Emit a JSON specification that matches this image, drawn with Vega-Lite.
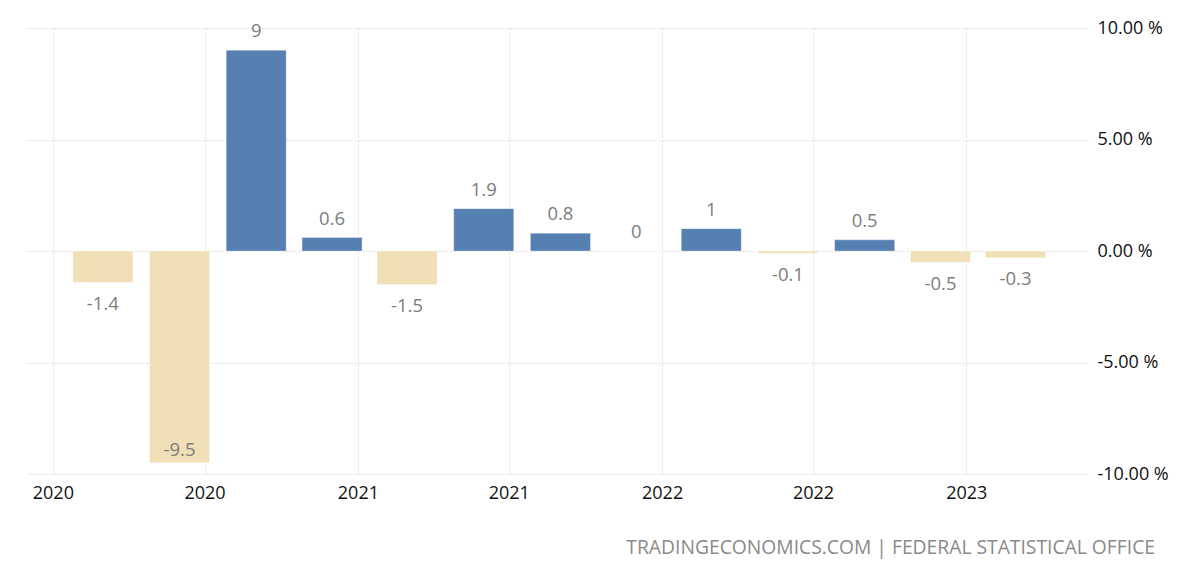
{
  "$schema": "https://vega.github.io/schema/vega-lite/v6.json",
  "width": 1061,
  "height": 446,
  "autosize": {"type": "none"},
  "padding": {"left": 27, "top": 28, "right": 112, "bottom": 92},
  "background": "#ffffff",
  "config": {
    "view": {"stroke": null},
    "font": "Open Sans",
    "axis": {"domain": false, "ticks": false, "grid": true, "gridColor": "#dddddd", "gridDash": [2, 2], "gridWidth": 1, "labelFont": "Open Sans", "labelFontSize": 18, "labelColor": "#111111", "title": null}
  },
  "title": {
    "text": "TRADINGECONOMICS.COM | FEDERAL STATISTICAL OFFICE",
    "orient": "bottom",
    "anchor": "end",
    "frame": "group",
    "font": "Open Sans",
    "fontSize": 19.3,
    "fontWeight": "normal",
    "color": "#8a8a8a",
    "baseline": "alphabetic",
    "dx": 67,
    "offset": 52
  },
  "data": {
    "values": [
      {"date": "2020-03-01", "value": -1.4},
      {"date": "2020-06-01", "value": -9.5},
      {"date": "2020-09-01", "value": 9},
      {"date": "2020-12-01", "value": 0.6},
      {"date": "2021-03-01", "value": -1.5},
      {"date": "2021-06-01", "value": 1.9},
      {"date": "2021-09-01", "value": 0.8},
      {"date": "2021-12-01", "value": 0},
      {"date": "2022-03-01", "value": 1},
      {"date": "2022-06-01", "value": -0.1},
      {"date": "2022-09-01", "value": 0.5},
      {"date": "2022-12-01", "value": -0.5},
      {"date": "2023-03-01", "value": -0.3}
    ]
  },
  "encoding": {
    "x": {
      "field": "date",
      "type": "temporal",
      "scale": {
        "type": "utc",
        "padding": 0,
        "nice": false,
        "domain": [
          {"year": 2019, "month": 12, "date": 1, "utc": true},
          {"year": 2023, "month": 5, "date": 27, "utc": true}
        ]
      },
      "axis": {
        "values": [
          {"year": 2020, "month": 1, "date": 1, "utc": true},
          {"year": 2020, "month": 7, "date": 1, "utc": true},
          {"year": 2021, "month": 1, "date": 1, "utc": true},
          {"year": 2021, "month": 7, "date": 1, "utc": true},
          {"year": 2022, "month": 1, "date": 1, "utc": true},
          {"year": 2022, "month": 7, "date": 1, "utc": true},
          {"year": 2023, "month": 1, "date": 1, "utc": true}
        ],
        "labelExpr": "utcFormat(datum.value, '%Y')",
        "labelPadding": 10,
        "labelBaseline": "top"
      }
    },
    "y": {
      "field": "value",
      "type": "quantitative",
      "scale": {"domain": [-10, 10], "nice": false, "zero": false, "padding": 0},
      "axis": {
        "orient": "right",
        "values": [-10, -5, 0, 5, 10],
        "labelExpr": "(datum.value < 0 ? '-' : '') + format(abs(datum.value), '.2f') + ' %'",
        "labelPadding": 9,
        "labelAlign": "left"
      }
    }
  },
  "layer": [
    {
      "mark": {"type": "bar", "width": 60, "stroke": "#ffffff", "strokeWidth": 0.6, "strokeOpacity": 0.5},
      "encoding": {
        "color": {
          "condition": {"test": "datum.value < 0", "value": "#F1DFB8"},
          "value": "#5680B2"
        }
      }
    },
    {
      "transform": [{"filter": "datum.value >= 0"}],
      "mark": {"type": "text", "baseline": "alphabetic", "dy": -13, "fontSize": 18.5, "color": "#7d7d7d", "font": "Open Sans"},
      "encoding": {"text": {"field": "value", "type": "nominal"}}
    },
    {
      "transform": [{"filter": "datum.value < 0 && datum.value > -8"}],
      "mark": {"type": "text", "baseline": "alphabetic", "dy": 27.5, "fontSize": 18.5, "color": "#7d7d7d", "font": "Open Sans"},
      "encoding": {"text": {"field": "value", "type": "nominal"}}
    },
    {
      "transform": [{"filter": "datum.value <= -8"}],
      "mark": {"type": "text", "baseline": "alphabetic", "dy": -7, "fontSize": 18.5, "color": "#7d7d7d", "font": "Open Sans"},
      "encoding": {"text": {"field": "value", "type": "nominal"}}
    }
  ]
}
